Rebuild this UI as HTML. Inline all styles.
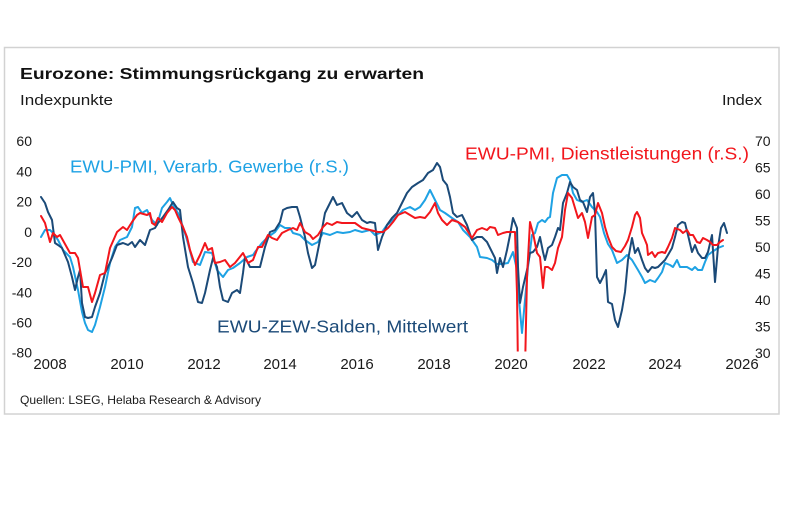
<!DOCTYPE html>
<html>
<head>
<meta charset="utf-8">
<style>
  html,body{margin:0;padding:0;background:#fff;}
  svg{display:block;}
  text{font-family:"Liberation Sans","DejaVu Sans",sans-serif;}
</style>
</head>
<body>
<svg width="800" height="518" viewBox="0 0 800 518" xmlns="http://www.w3.org/2000/svg">
  <rect x="0" y="0" width="800" height="518" fill="#fff"/>
  <rect x="4.5" y="47.5" width="774.5" height="366.5" fill="#fff" stroke="#d2d2d2" stroke-width="1.5"/>

  <!-- Title -->
  <text x="20" y="79" font-size="16" font-weight="bold" fill="#111" textLength="404" lengthAdjust="spacingAndGlyphs">Eurozone: Stimmungsrückgang zu erwarten</text>
  <text x="20" y="105" font-size="14.5" fill="#1a1a1a" textLength="93" lengthAdjust="spacingAndGlyphs">Indexpunkte</text>
  <text x="722" y="105" font-size="14.5" fill="#1a1a1a" textLength="40" lengthAdjust="spacingAndGlyphs">Index</text>

  <!-- Left axis labels -->
  <g font-size="14" fill="#1a1a1a" text-anchor="end">
    <text x="32" y="146">60</text>
    <text x="32" y="176.3">40</text>
    <text x="32" y="206.6">20</text>
    <text x="32" y="236.9">0</text>
    <text x="32" y="267.1">-20</text>
    <text x="32" y="297.4">-40</text>
    <text x="32" y="327.7">-60</text>
    <text x="32" y="357.5">-80</text>
  </g>
  <!-- Right axis labels -->
  <g font-size="14" fill="#1a1a1a" text-anchor="start">
    <text x="755" y="146">70</text>
    <text x="755" y="172.5">65</text>
    <text x="755" y="199">60</text>
    <text x="755" y="225.5">55</text>
    <text x="755" y="252">50</text>
    <text x="755" y="278.5">45</text>
    <text x="755" y="305">40</text>
    <text x="755" y="331.5">35</text>
    <text x="755" y="358">30</text>
  </g>
  <!-- X axis labels -->
  <g font-size="15" fill="#1a1a1a" text-anchor="middle">
    <text x="50" y="369">2008</text>
    <text x="127" y="369">2010</text>
    <text x="204" y="369">2012</text>
    <text x="280" y="369">2014</text>
    <text x="357" y="369">2016</text>
    <text x="434" y="369">2018</text>
    <text x="511" y="369">2020</text>
    <text x="589" y="369">2022</text>
    <text x="665" y="369">2024</text>
    <text x="742" y="369">2026</text>
  </g>

  <defs>
    <clipPath id="plot"><rect x="30" y="120" width="730" height="231.5"/></clipPath>
  </defs>

  <g clip-path="url(#plot)" fill="none" stroke-width="2" stroke-linejoin="round" stroke-linecap="round">
    <!-- Light blue: PMI manufacturing -->
    <polyline stroke="#1ea2e4" points="41,237 45,230 50,230 53,233 58,240 63,250 70,257 73,267 78,290 82,312 85,323 88,330 92,332 95,325 100,307 105,287 110,263 115,247 120,240 127,237 132,227 135,208 138,207 142,213 147,210 152,220 157,225 162,208 167,202 170,198 173,205 178,213 183,227 187,240 193,262 200,265 205,252 212,253 217,270 223,277 228,270 233,268 240,263 247,257 253,255 255,252 262,243 268,237 275,232 280,225 285,228 290,228 293,233 300,235 305,240 312,245 318,242 323,233 330,235 337,232 343,233 350,232 355,230 362,232 370,230 375,235 382,232 387,225 393,220 398,215 403,210 410,207 415,210 420,207 425,200 430,190 435,200 440,210 445,213 452,218 458,222 463,230 470,237 477,247 480,257 487,258 492,260 497,264 502,264 508,263 513,252 517,270 519,300 522,333 525,300 528,267 532,235 535,233 538,223 542,220 545,222 548,218 550,217 553,193 557,178 562,175 567,175 570,180 573,193 577,200 582,202 587,200 592,207 597,212 600,217 604,233 608,244 612,250 617,263 622,260 627,255 632,260 635,265 638,270 642,277 645,283 650,280 655,282 658,278 662,272 665,263 670,265 673,267 677,260 680,267 687,267 692,270 695,267 698,270 702,270 705,262 708,255 712,252 715,250 718,248 723,246"/>
    <!-- Dark blue: ZEW -->
    <polyline stroke="#1b4a78" points="41,197 45,203 48,212 52,220 55,243 58,245 62,248 65,255 68,262 72,277 75,290 78,277 80,270 82,303 85,317 88,318 92,317 95,307 100,293 105,273 108,267 112,258 117,245 123,243 128,245 132,242 135,247 140,240 145,245 150,230 155,228 158,223 163,217 168,210 173,202 177,208 180,210 183,237 188,267 193,283 198,302 202,303 205,293 210,270 213,258 217,267 220,287 223,300 228,302 232,293 237,290 240,293 243,273 245,257 250,267 257,267 260,267 265,247 270,232 275,230 280,222 283,210 287,208 292,207 297,207 300,217 305,237 308,253 312,268 315,265 320,240 325,213 330,203 333,197 337,205 342,203 347,213 352,217 357,212 362,220 367,223 370,222 375,223 378,250 382,237 387,225 392,218 397,213 402,203 407,193 412,187 418,183 423,180 428,173 433,170 437,163 440,167 443,180 447,185 450,197 453,213 457,217 462,215 467,225 472,240 477,237 482,237 487,242 490,248 495,258 497,273 500,258 503,267 507,250 510,235 513,218 517,228 518,267 520,303 523,287 527,270 530,253 533,252 537,247 540,237 543,252 545,260 548,248 552,245 555,237 558,228 560,230 563,203 567,193 570,182 573,187 577,190 580,200 583,202 587,212 590,197 593,193 595,213 597,277 600,283 603,277 606,270 608,302 612,304 615,320 618,327 622,310 625,292 628,260 632,238 635,253 638,248 642,260 645,268 648,272 652,267 655,268 658,267 662,263 665,260 668,255 672,248 675,237 678,225 682,222 685,223 688,235 692,252 695,245 698,253 702,258 705,258 708,252 712,235 715,282 718,247 721,228 724,223 727,233"/>
    <!-- Red: PMI services -->
    <polyline stroke="#f2161c" points="41,216 45,223 50,242 53,233 57,237 60,235 70,253 75,253 78,258 83,287 88,287 92,302 95,293 100,275 105,273 110,248 117,232 123,227 127,230 132,222 137,215 140,213 147,215 150,213 152,223 155,225 158,218 162,222 167,213 172,207 175,210 178,217 183,227 187,237 190,250 195,265 200,255 205,243 208,250 212,248 215,263 220,262 225,260 230,267 235,263 243,253 248,263 253,260 258,247 262,247 268,235 272,238 277,240 282,233 288,230 293,228 297,230 300,223 305,232 310,235 313,239 318,235 323,227 327,223 332,225 337,222 342,223 348,223 355,223 362,228 370,230 378,232 383,232 388,228 393,222 398,215 405,212 410,215 415,218 420,217 425,218 430,212 435,203 438,213 442,220 447,225 452,220 458,222 465,227 472,238 477,230 482,228 487,230 490,227 495,228 498,235 503,233 507,232 512,232 515,232 517,293 518,370 525,370 527,277 530,222 533,233 537,253 540,257 543,288 545,267 548,267 552,270 555,263 558,248 562,237 565,210 568,193 572,198 575,208 578,218 582,213 585,222 588,238 592,217 595,215 598,203 602,213 605,227 608,237 612,247 616,251 621,252 625,246 628,240 632,227 635,215 637,212 640,218 642,233 645,240 647,245 648,255 652,252 655,257 658,253 662,252 665,253 668,247 672,238 675,228 680,230 683,233 687,230 690,235 693,235 697,242 700,243 703,238 707,240 710,242 713,245 717,245 720,242 723,240"/>
  </g>

  <!-- Series labels -->
  <text x="70" y="172.7" font-size="17.5" fill="#1ea2e4" textLength="279" lengthAdjust="spacingAndGlyphs">EWU-PMI, Verarb. Gewerbe (r.S.)</text>
  <text x="465" y="159.3" font-size="17.5" fill="#f2161c" textLength="284" lengthAdjust="spacingAndGlyphs">EWU-PMI, Dienstleistungen (r.S.)</text>
  <text x="217" y="332.7" font-size="17.5" fill="#1b4a78" textLength="251" lengthAdjust="spacingAndGlyphs">EWU-ZEW-Salden, Mittelwert</text>

  <!-- Source -->
  <text x="20" y="404" font-size="12" fill="#1a1a1a" textLength="241" lengthAdjust="spacingAndGlyphs">Quellen: LSEG, Helaba Research &amp; Advisory</text>
</svg>
</body>
</html>
